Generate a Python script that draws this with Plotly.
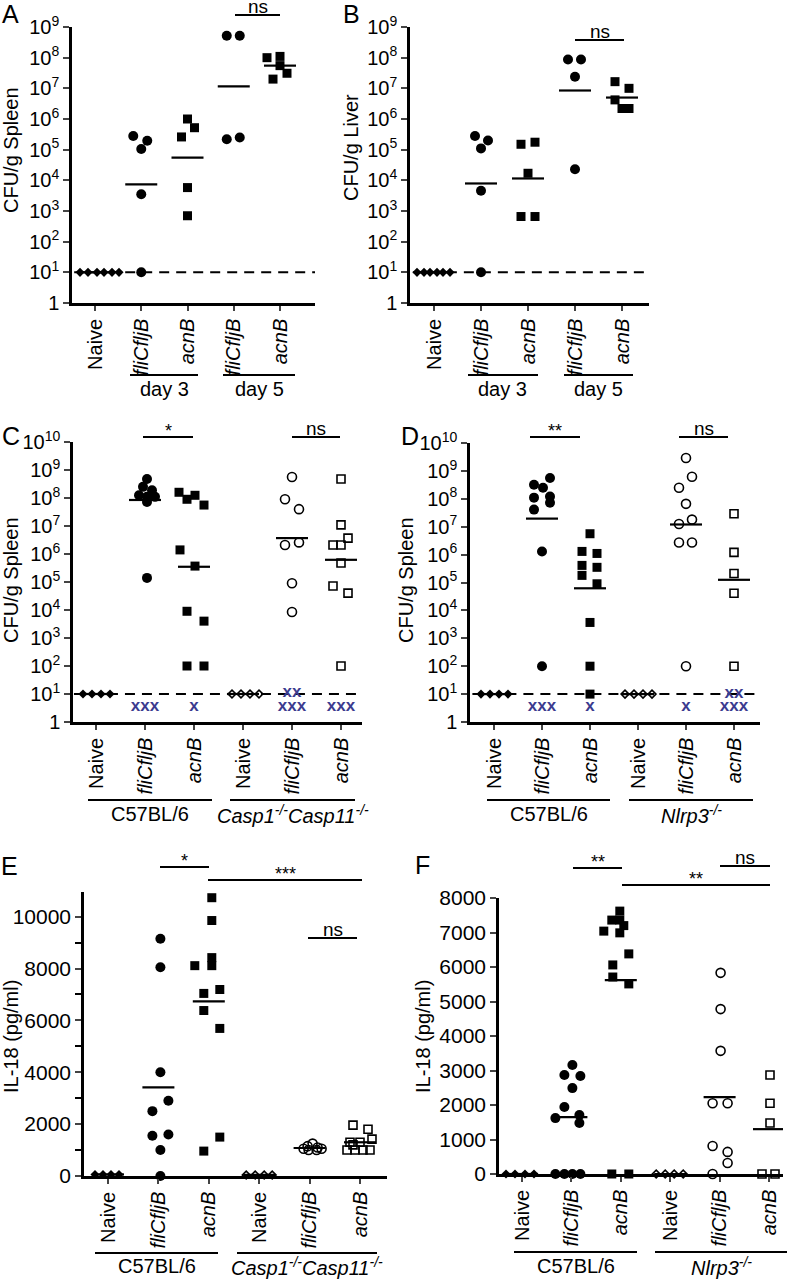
import numpy as np
import plotly.graph_objects as go

W, H = 794, 1279
FONT = "Arial, 'Liberation Sans', sans-serif"
XBLUE = "#3b3b8f"

# ---------------- values ----------------
ab_labels = ["Naive", "<i>fliCfljB</i>", "<i>acnB</i>", "<i>fliCfljB</i>", "<i>acnB</i>"]
ab_symbols = ["diamond", "circle", "square", "circle", "square"]

# A: CFU/g spleen (naive, day 3, day 5)
spleen_ab = [
    [10, 10, 10, 10, 10, 10],
    [2.8e5, 1.95e5, 1.05e5, 3.5e3, 10],
    [1.0e6, 5.2e5, 2.6e5, 5.8e3, 700],
    [5.2e8, 5.2e8, 2.5e5, 2.2e5],
    [1.1e8, 1.0e8, 5.5e7, 3.1e7, 2.0e7],
]
spleen_ab_mean = [10, 7.4e3, 5.5e4, 1.15e7, 5.5e7]

# B: CFU/g liver
liver_ab = [
    [10, 10, 10, 10, 10, 10],
    [2.8e5, 2.0e5, 1.1e5, 4.6e3, 10],
    [1.75e5, 1.5e5, 1.7e4, 660, 660],
    [8.7e7, 8.7e7, 2.4e7, 2.3e4],
    [1.65e7, 1.0e7, 4.2e6, 2.2e6, 2.2e6],
]
liver_ab_mean = [10, 7.9e3, 1.15e4, 8.5e6, 5.0e6]

geno_labels = ["Naive", "<i>fliCfljB</i>", "<i>acnB</i>"] * 2
geno_symbols = ["diamond", "circle", "square", "diamond-open", "circle-open", "square-open"]

# C: CFU/g spleen, C57BL/6 vs Casp1-/-Casp11-/-
spleen_casp = [
    [10, 10, 10, 10],
    [4.8e8, 2.5e8, 1.9e8, 1.25e8, 1.1e8, 1.1e8, 7.2e7, 1.4e5],
    [1.6e8, 1.25e8, 9e7, 5.6e7, 1.4e6, 3.7e5, 9e3, 4e3, 100, 100],
    [10, 10, 10, 10],
    [5.6e8, 9e7, 4e7, 2.6e6, 2.1e6, 9e4, 8.5e3],
    [4.8e8, 1.1e7, 3.7e6, 2.1e6, 2.1e6, 4.8e5, 7.2e4, 4e4, 100],
]
spleen_casp_mean = [10, 8.5e7, 3.5e5, 10, 3.7e6, 6.2e5]
spleen_casp_below = [0, 3, 1, 0, 3, 3]    # "x" under detection limit
spleen_casp_at_lod = [0, 0, 0, 0, 2, 0]   # "x" on detection limit

# D: CFU/g spleen, C57BL/6 vs Nlrp3-/-
spleen_nlrp3 = [
    [10, 10, 10, 10],
    [5.6e8, 3.2e8, 2.5e8, 1.2e8, 1.1e8, 7.2e7, 4.1e7, 1.3e6, 100],
    [5.6e6, 1.3e6, 1.1e6, 4.1e5, 3.5e5, 1.8e5, 9e4, 3.7e3, 100, 10],
    [10, 10, 10, 10],
    [2.9e9, 6.2e8, 2.5e8, 6.6e7, 1.8e7, 1.25e7, 2.7e6, 2.7e6, 100],
    [2.9e7, 1.2e6, 2.1e5, 4.1e4, 100],
]
spleen_nlrp3_mean = [10, 1.95e7, 6.2e4, 10, 1.2e7, 1.25e5]
spleen_nlrp3_below = [0, 3, 1, 0, 1, 3]
spleen_nlrp3_at_lod = [0, 0, 0, 0, 0, 2]

# E: IL-18 pg/ml, C57BL/6 vs Casp1-/-Casp11-/-
il18_casp = [
    [60, 60, 60, 60],
    [9150, 8050, 4000, 2900, 2500, 1600, 1550, 1000, 0],
    [10730, 9850, 8420, 8110, 8110, 7190, 7040, 6380, 5690, 1500, 960],
    [40, 40, 40, 40],
    [1250, 1150, 1100, 1050, 1050, 1000, 1000],
    [1960, 1800, 1420, 1300, 1300, 1200, 1000, 1000, 1000, 1000],
]
il18_casp_mean = [60, 3420, 6730, 40, 1080, 1300]

# F: IL-18 pg/ml, C57BL/6 vs Nlrp3-/-
il18_nlrp3 = [
    [0, 0, 0, 0],
    [3160, 2870, 2840, 2490, 1940, 1710, 1620, 1480, 0, 0, 0, 0],
    [7620, 7360, 7360, 7200, 7040, 6990, 6380, 6060, 5710, 5510, 0, 0],
    [0, 0, 0, 0],
    [5830, 4780, 3570, 2050, 2050, 810, 640, 320, 0],
    [2870, 2050, 1480, 0, 0],
]
il18_nlrp3_mean = [0, 1650, 5620, 0, 2230, 1300]

# ---------------- horizontal scatter of the dots (pixels from category centre) ----------------
jit_a = [[-15, -7, 2, 9, 17, 24], [-8, 6, 0, 0, 0], [0, 7, -6, 0, 0], [-7, 6, 6, -7], [0, -13, 0, 7, -7]]
jit_b = [[-17, -10, -4, 3, 9, 16], [-6, 7, 0, 0, 0], [7, -7, 0, -7, 7], [-7, 6, 0, 0], [-7, 7, -7, 0, 7]]
jit_c = [[-13, -4, 5, 14], [2, -2, 7, -6, 10, 2, 2, 2], [-15, 1, -7, 10, -14, 1, -7, 10, -7, 10],
         [-11, -2, 7, 16], [0, -7, 7, 7, -7, 0, 0], [0, 0, 7, -8, 0, 0, -8, 7, 0]]
jit_d = [[-13, -4, 5, 14], [8, -8, 1, 8, -8, 8, -8, 0, 0], [0, -8, 7, -8, 7, -8, 7, 0, 0, 0],
         [-13, -4, 5, 14], [0, 6, -7, 0, 6, -7, -7, 6, 0], [0, 0, 0, 0, 0]]
jit_e = [[-13, -5, 3, 11], [2, 2, 2, 10, -6, 10, -6, 2, 2], [3, 3, 3, 3, -14, 11, -5, -5, 11, 11, -5],
         [-13, -4, 5, 13], [3, -2, 8, -6, 12, -1, 7], [-7, 8, 12, -10, 0, -7, -13, -5, 3, 10]]
jit_f = [[-16, -7, 3, 12], [1, -7, 9, 1, -7, 8, -16, 8, -16, -7, 1, 9],
         [-1, -9, -1, 3, -17, -1, 8, -8, -8, 8, -9, 8],
         [-14, -5, 4, 13], [1, 1, 1, -7, 8, -7, 8, 8, -7], [1, 1, 1, -7, 6]]

# ---------------- panel geometry (pixels) ----------------
# box = (x_left, x_right, y_top, y_bottom) of the axes, cat0 = pixel of first category
panels = [
    dict(vals=spleen_ab, mean=spleen_ab_mean, labels=ab_labels, symbols=ab_symbols, jit=jit_a,
         log=True, ymax=9, box=(72, 315, 27, 303), cat0=95, step=46.25),
    dict(vals=liver_ab, mean=liver_ab_mean, labels=ab_labels, symbols=ab_symbols, jit=jit_b,
         log=True, ymax=9, box=(410, 649, 27, 303), cat0=434, step=47),
    dict(vals=spleen_casp, mean=spleen_casp_mean, labels=geno_labels, symbols=geno_symbols, jit=jit_c,
         log=True, ymax=10, box=(73, 362, 442, 722), cat0=96, step=49,
         below=spleen_casp_below, at_lod=spleen_casp_at_lod),
    dict(vals=spleen_nlrp3, mean=spleen_nlrp3_mean, labels=geno_labels, symbols=geno_symbols, jit=jit_d,
         log=True, ymax=10, box=(470, 760, 443, 722), cat0=494, step=48,
         below=spleen_nlrp3_below, at_lod=spleen_nlrp3_at_lod),
    dict(vals=il18_casp, mean=il18_casp_mean, labels=geno_labels, symbols=geno_symbols, jit=jit_e,
         log=False, ymax=10950, dtick=2000, box=(84, 387, 892, 1176), cat0=108, step=50.4),
    dict(vals=il18_nlrp3, mean=il18_nlrp3_mean, labels=geno_labels, symbols=geno_symbols, jit=jit_f,
         log=False, ymax=8000, dtick=1000, box=(499, 783, 898, 1174), cat0=522, step=49.4),
]

SIZES = {"circle": 10, "square": 9, "diamond": 7}


def px(x):
    return x / W


def py(y):
    return 1 - y / H


fig = go.Figure()
layout = {}

for i, p in enumerate(panels, 1):
    xs = "x" if i == 1 else f"x{i}"
    ys = "y" if i == 1 else f"y{i}"
    x0, x1, y0, y1 = p["box"]
    xr = [(x0 - p["cat0"]) / p["step"], (x1 - p["cat0"]) / p["step"]]
    n = len(p["vals"])

    # detection limit line
    if p["log"]:
        fig.add_trace(go.Scatter(
            x=[-0.45, xr[1]], y=[10, 10], mode="lines", xaxis=xs, yaxis=ys,
            line=dict(color="black", width=2, dash="10px,7px"), hoverinfo="skip"))

    for j, vals in enumerate(p["vals"]):
        sym = p["symbols"][j]
        size = SIZES[sym.replace("-open", "")]
        openm = sym.endswith("-open")
        xv = [j + o / p["step"] for o in p["jit"][j]]
        fig.add_trace(go.Scatter(
            x=xv, y=vals, mode="markers", xaxis=xs, yaxis=ys, cliponaxis=False,
            marker=dict(symbol=sym, size=size - 1 if openm else size,
                        color="black", line=dict(color="black", width=1.6 if openm else 0))))

    # mean bars
    hw = 16 / p["step"]
    mx, my = [], []
    for j, m in enumerate(p["mean"]):
        mx += [j - hw, j + hw, None]
        my += [m, m, None]
    fig.add_trace(go.Scatter(x=mx, y=my, mode="lines", xaxis=xs, yaxis=ys, cliponaxis=False,
                             line=dict(color="black", width=2.2), hoverinfo="skip"))

    # undetectable samples shown as "x"
    if "below" in p:
        for counts, yv in ((p["below"], 10 ** 0.55), (p["at_lod"], 10 ** 1.03)):
            tx = [j for j in range(n) if counts[j]]
            fig.add_trace(go.Scatter(
                x=tx, y=[yv] * len(tx), text=["x" * counts[j] for j in tx], mode="text",
                xaxis=xs, yaxis=ys, cliponaxis=False,
                textfont=dict(family=FONT, size=17, color=XBLUE, weight="bold")))

    xa = "xaxis" if i == 1 else f"xaxis{i}"
    ya = "yaxis" if i == 1 else f"yaxis{i}"
    layout[xa] = dict(
        domain=[px(x0), px(x1)], range=xr, anchor=ys, tickmode="array",
        tickvals=list(range(n)), ticktext=p["labels"], tickangle=-90, automargin=False,
        showline=True, linecolor="black", linewidth=2.5, ticks="outside",
        ticklen=5, tickwidth=2, showgrid=False, zeroline=False,
        tickfont=dict(family=FONT, size=20, color="black"))
    if p["log"]:
        exps = list(range(p["ymax"] + 1))
        layout[ya] = dict(
            domain=[py(y1), py(y0)], type="log", range=[0, p["ymax"]], anchor=xs,
            tickmode="array", tickvals=[10 ** e for e in exps],
            ticktext=["1"] + [f"10<sup>{e}</sup>" for e in exps[1:]],
            tickfont=dict(family=FONT, size=20, color="black"))
    else:
        layout[ya] = dict(
            domain=[py(y1), py(y0)], range=[0, p["ymax"]], anchor=xs,
            tickmode="linear", tick0=0, dtick=p["dtick"], tickformat="d",
            tickfont=dict(family=FONT, size=21, color="black"))
        if p["dtick"] == 2000:
            layout[ya]["minor"] = dict(dtick=1000, ticks="outside", ticklen=6,
                                       tickwidth=2, tickcolor="black")
    layout[ya].update(showline=True, linecolor="black", linewidth=2.5, ticks="outside",
                      ticklen=6, tickwidth=2, showgrid=False, zeroline=False, automargin=False)

fig.update_layout(**layout)

anns = []


def text(x, y, s, size=21, angle=0, italic=False):
    anns.append(dict(x=px(x), y=py(y), xref="paper", yref="paper", text=s, showarrow=False,
                     textangle=angle, xanchor="center", yanchor="middle",
                     font=dict(family=FONT, size=size, color="black",
                               style="italic" if italic else "normal")))


shapes = []


def hline(xa, xb, y, w=2):
    shapes.append(dict(type="line", xref="paper", yref="paper", x0=px(xa), x1=px(xb),
                       y0=py(y), y1=py(y), line=dict(color="black", width=w)))


# panel letters
for s, x, y in [("A", 10, 14), ("B", 351, 14), ("C", 11, 436), ("D", 410, 436),
                ("E", 9, 866), ("F", 422, 865)]:
    text(x, y, s, size=25)

# y-axis titles
for s, x, y in [("CFU/g Spleen", 11, 150), ("CFU/g Liver", 351, 148),
                ("CFU/g Spleen", 11, 580), ("CFU/g Spleen", 406, 580),
                ("IL-18 (pg/ml)", 11, 1037), ("IL-18 (pg/ml)", 423, 1037)]:
    text(x, y, s, size=20, angle=-90)

# significance bars
for s, xa, xb, yb in [("ns", 235, 280, 15), ("ns", 575, 624, 40),
                      ("*", 143, 193, 437), ("ns", 292, 340, 437),
                      ("**", 530, 580, 437), ("ns", 679, 728, 437),
                      ("*", 160, 209, 867), ("***", 208, 362, 880), ("ns", 308, 357, 938),
                      ("**", 573, 622, 868), ("ns", 720, 770, 866), ("**", 622, 770, 885)]:
    hline(xa, xb, yb)
    if s == "ns":
        text((xa + xb) / 2, yb - 9, s, size=19)
    else:
        text((xa + xb) / 2, yb - 6, s, size=18)

# group labels under the x axes
for s, xa, xb, yl, yt, it in [("day 3", 130, 198, 375, 389, False),
                              ("day 5", 223, 295, 375, 389, False),
                              ("day 3", 468, 538, 375, 389, False),
                              ("day 5", 564, 633, 375, 389, False),
                              ("C57BL/6", 88, 212, 800, 814, False),
                              ("Casp1<sup>-/-</sup>Casp11<sup>-/-</sup>", 230, 355, 800, 814, True),
                              ("C57BL/6", 487, 610, 800, 814, False),
                              ("Nlrp3<sup>-/-</sup>", 629, 753, 800, 814, True),
                              ("C57BL/6", 95, 218, 1253, 1266, False),
                              ("Casp1<sup>-/-</sup>Casp11<sup>-/-</sup>", 237, 377, 1253, 1266, True),
                              ("C57BL/6", 514, 637, 1252, 1266, False),
                              ("Nlrp3<sup>-/-</sup>", 655, 787, 1252, 1266, True)]:
    hline(xa, xb, yl)
    text((xa + xb) / 2, yt, s, size=20, italic=it)

fig.update_layout(
    width=W, height=H, margin=dict(l=0, r=0, t=0, b=0, autoexpand=False), autosize=False,
    paper_bgcolor="white", plot_bgcolor="white", showlegend=False,
    annotations=anns, shapes=shapes, font=dict(family=FONT, color="black"))

fig.write_html("out.html", config={"displayModeBar": False},
               post_script="document.body.style.margin='0';")
